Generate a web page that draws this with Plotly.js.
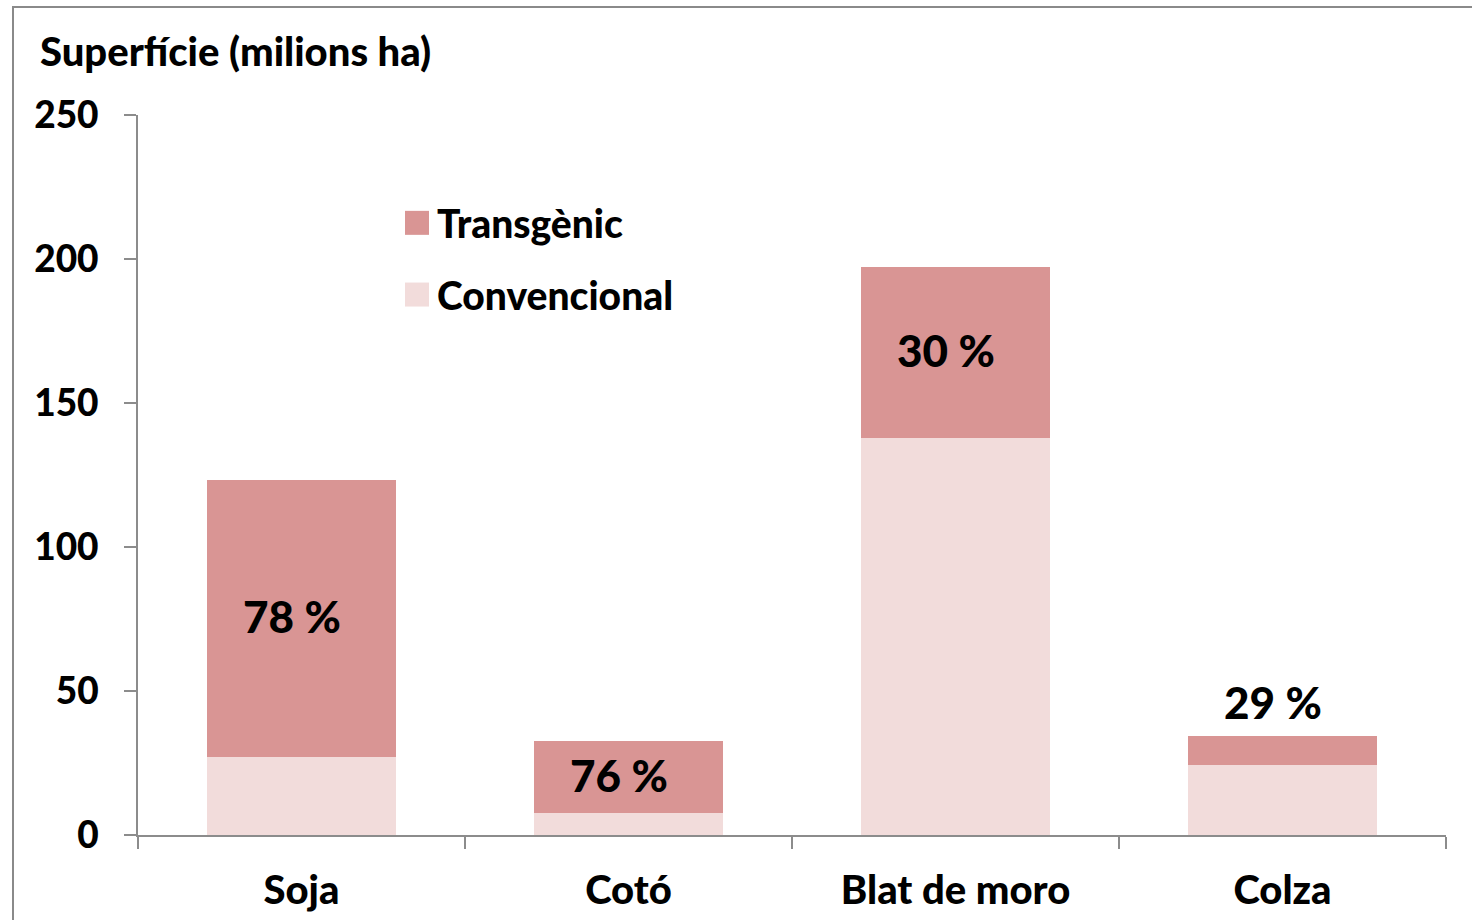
<!DOCTYPE html>
<html>
<head>
<meta charset="utf-8">
<script src="https://cdn.plot.ly/plotly-3.0.1.min.js"></script>
<style>
  html, body { margin: 0; padding: 0; background: #ffffff; }
  #chart { width: 1472px; height: 920px; }
</style>
</head>
<body>
<div id="chart"></div>
<script>
// Crop area (millions of hectares) and share of transgenic crops
const crops = ['Soja', 'Cotó', 'Blat de moro', 'Colza'];
const totalArea = [123.3, 32.6, 197.2, 34.4];
const transgenicPct = [78, 76, 30, 29];

const transgenic = totalArea.map((t, i) => +(t * transgenicPct[i] / 100).toFixed(1));
const conventional = totalArea.map((t, i) => +(t - transgenic[i]).toFixed(1));

const FONT = 'Lato, "Open Sans", sans-serif';
const WEIGHT = 900;
const AXIS_GREY = '#8c8c8c';
const W = 1472, H = 920;
const M = { l: 138, r: 26, t: 115, b: 85 };

const traces = [
  {
    type: 'bar', name: 'Convencional', x: crops, y: conventional,
    marker: { color: '#F2DCDB' }, legendgroup: 'c', legendrank: 2, hoverinfo: 'x+y+name'
  },
  {
    type: 'bar', name: 'Transgènic', x: crops, y: transgenic,
    marker: { color: '#D99594' }, legendgroup: 't', legendrank: 1, hoverinfo: 'x+y+name'
  }
];

// Percentage labels: inside the transgenic segment, or above short bars
const annotations = crops.map((c, i) => {
  const inside = transgenic[i] > 15;
  return {
    x: c, y: inside ? conventional[i] + transgenic[i] / 2 : totalArea[i],
    xref: 'x', yref: 'y',
    text: transgenicPct[i] + ' %',
    showarrow: false,
    xshift: -10,
    yshift: inside ? 2 : 6,
    yanchor: inside ? 'middle' : 'bottom',
    font: { family: FONT, size: 44, color: '#000', weight: WEIGHT }
  };
});

// Outer frame of the figure (left and top edges), in paper units
const pw = W - M.l - M.r, ph = H - M.t - M.b;
const px = v => (v - M.l) / pw;
const py = v => (H - M.b - v) / ph;
const frame = {
  type: 'path', xref: 'paper', yref: 'paper',
  path: `M ${px(13)} ${py(H + 10)} L ${px(13)} ${py(7)} L ${px(W + 10)} ${py(7)}`,
  line: { color: '#8a8a8a', width: 2 }
};

const layout = {
  width: W, height: H,
  margin: M,
  paper_bgcolor: '#ffffff', plot_bgcolor: '#ffffff',
  barmode: 'stack',
  bargap: 0.42,
  font: { family: FONT, color: '#000', weight: WEIGHT },
  title: {
    text: 'Superfície (milions ha)',
    xref: 'container', yref: 'container',
    x: 40 / W, xanchor: 'left',
    y: 1 - 52 / H, yanchor: 'middle',
    font: { family: FONT, size: 40, color: '#000', weight: WEIGHT }
  },
  xaxis: {
    type: 'category',
    showline: true, linecolor: AXIS_GREY, linewidth: 2,
    ticks: 'outside', tickson: 'boundaries', ticklen: 12, tickwidth: 2, tickcolor: AXIS_GREY,
    ticklabelstandoff: 19,
    tickfont: { family: FONT, size: 40, color: '#000', weight: WEIGHT },
    showgrid: false, zeroline: false, fixedrange: true
  },
  yaxis: {
    range: [0, 250], dtick: 50,
    showline: true, linecolor: AXIS_GREY, linewidth: 2,
    ticks: 'outside', ticklen: 12, tickwidth: 2, tickcolor: AXIS_GREY,
    ticklabelstandoff: 18,
    tickfont: { family: FONT, size: 37, color: '#000', weight: WEIGHT },
    showgrid: false, zeroline: false, fixedrange: true
  },
  legend: {
    x: px(397), xanchor: 'left',
    y: py(191), yanchor: 'top',
    traceorder: 'grouped',
    tracegroupgap: 18,
    bgcolor: 'rgba(0,0,0,0)',
    font: { family: FONT, size: 39, color: '#000', weight: WEIGHT }
  },
  annotations: annotations,
  shapes: [frame],
  showlegend: true
};

Plotly.newPlot('chart', traces, layout, { displayModeBar: false, staticPlot: true }).then(gd => {
  // Square legend swatches
  gd.querySelectorAll('.legendpoints path').forEach(p => {
    p.setAttribute('d', 'M12,12H-12V-12H12Z');
  });
});
</script>
</body>
</html>
